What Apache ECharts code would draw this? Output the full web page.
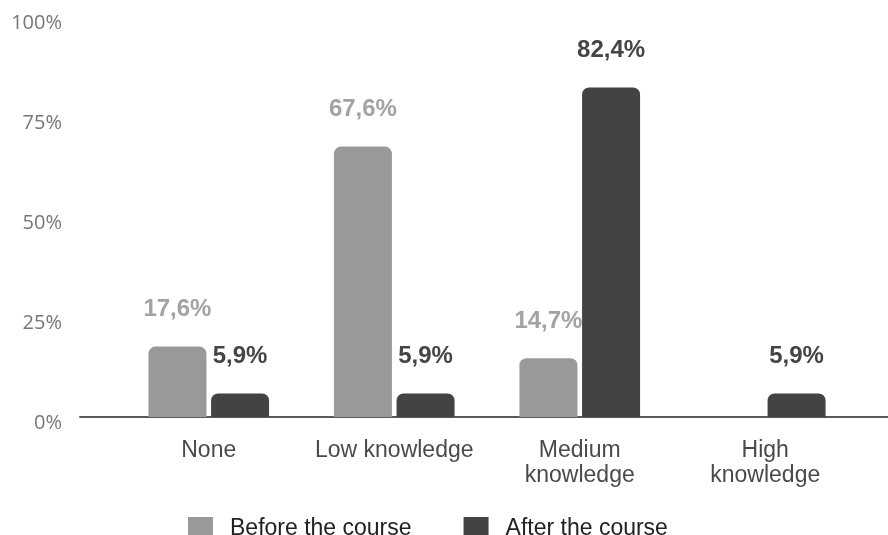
<!DOCTYPE html>
<html>
<head>
<meta charset="utf-8">
<script src="https://cdn.jsdelivr.net/npm/echarts@6/dist/echarts.min.js"></script>
<style>
  html, body { margin: 0; padding: 0; background: #ffffff; }
  #chart { width: 888px; height: 535px; }
</style>
</head>
<body>
<div id="chart"></div>
<script>
// Knowledge levels reported by participants
const categories = ['None', 'Low knowledge', 'Medium\nknowledge', 'High\nknowledge'];
const beforeValues = [17.6, 67.6, 14.7, null];
const afterValues = [5.9, 5.9, 82.4, 5.9];
const yTicks = [0, 25, 50, 75, 100];
const seriesNames = ['Before the course', 'After the course'];

const fmt = v => String(v).replace('.', ',') + '%';

const chart = echarts.init(document.getElementById('chart'), null, { renderer: 'canvas' });

const labelBase = {
  show: true,
  position: 'top',
  distance: 25,
  fontFamily: 'Liberation Sans',
  fontWeight: 'bold',
  fontSize: 24,
  formatter: p => (p.value == null ? '' : fmt(p.value))
};

chart.setOption({
  backgroundColor: '#ffffff',
  animation: false,
  grid: [
    { left: 116, right: 30, top: 17, bottom: 118 },
    { left: 80, right: 0, top: 17, bottom: 118 }
  ],
  legend: {
    data: seriesNames,
    left: 183,
    top: 512,
    itemWidth: 25,
    itemHeight: 24,
    itemGap: 52,
    icon: 'rect',
    textStyle: {
      fontFamily: 'Liberation Sans',
      fontSize: 23,
      color: '#222',
      padding: [0, 0, 0, 12]
    }
  },
  xAxis: [
    {
      type: 'category',
      gridIndex: 0,
      data: categories,
      axisLine: { show: false },
      axisTick: { show: false },
      axisLabel: {
        margin: 21,
        fontFamily: 'Liberation Sans',
        fontSize: 23,
        lineHeight: 25,
        color: '#4a4a4a',
        interval: 0
      }
    },
    {
      // baseline spanning the full width
      type: 'value',
      gridIndex: 1,
      min: 0,
      max: 1,
      axisLine: { show: true, lineStyle: { color: '#5a5a5a', width: 2 } },
      axisTick: { show: false },
      axisLabel: { show: false },
      splitLine: { show: false }
    }
  ],
  yAxis: [
    {
      type: 'value',
      gridIndex: 0,
      min: yTicks[0],
      max: yTicks[yTicks.length - 1],
      interval: yTicks[1] - yTicks[0],
      axisLine: { show: false },
      axisTick: { show: false },
      splitLine: { show: false },
      axisLabel: {
        margin: 54,
        formatter: v => '{t|' + v + '%}',
        rich: {
          t: {
            fontFamily: 'Open Sans',
            fontSize: 20,
            color: '#777777',
            padding: [12, 0, 0, 0]
          }
        }
      }
    },
    {
      type: 'value',
      gridIndex: 1,
      show: false
    }
  ],
  series: [
    {
      name: seriesNames[0],
      type: 'bar',
      xAxisIndex: 0,
      yAxisIndex: 0,
      data: beforeValues,
      barWidth: 58,
      barGap: '8%',
      itemStyle: { color: '#999999', borderRadius: [7, 7, 0, 0] },
      label: Object.assign({}, labelBase, { color: '#a3a3a3' })
    },
    {
      name: seriesNames[1],
      type: 'bar',
      xAxisIndex: 0,
      yAxisIndex: 0,
      data: afterValues,
      barWidth: 58,
      barGap: '8%',
      itemStyle: { color: '#434343', borderRadius: [7, 7, 0, 0] },
      label: Object.assign({}, labelBase, { color: '#454545' })
    }
  ]
});
</script>
</body>
</html>
